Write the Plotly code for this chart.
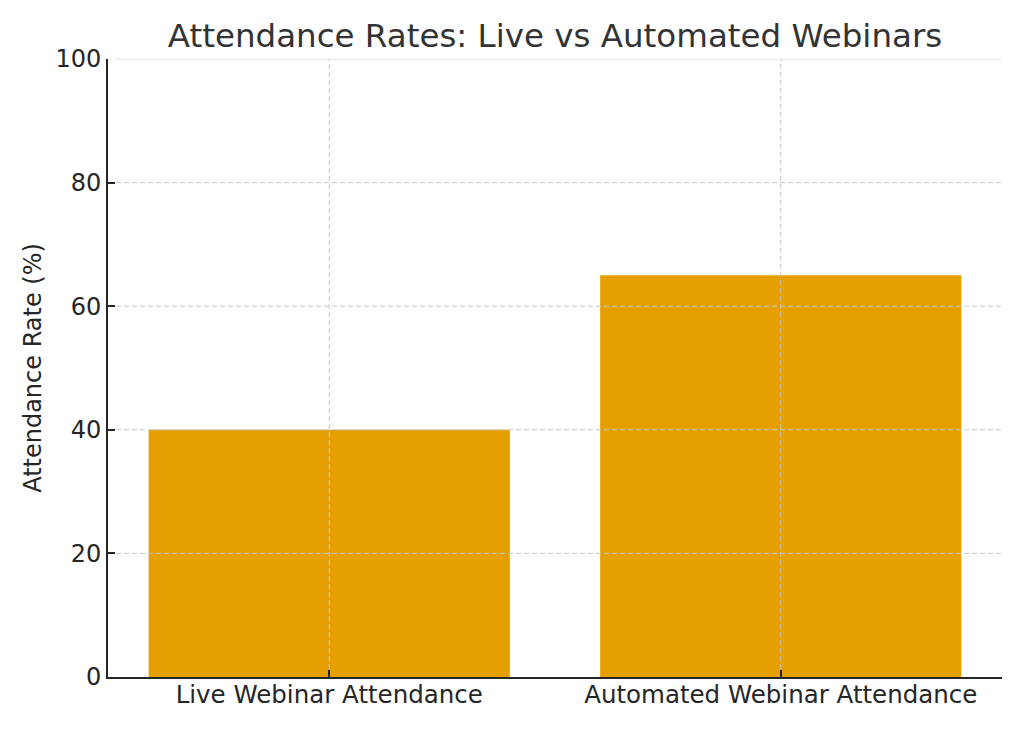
import plotly.graph_objects as go

categories = ["Live Webinar Attendance", "Automated Webinar Attendance"]
attendance_rates = [40, 65]
y_ticks = [0, 20, 40, 60, 80, 100]

fig = go.Figure()
fig.add_trace(go.Bar(
    x=categories,
    y=attendance_rates,
    marker=dict(color="#E69F00", line=dict(width=0)),
    width=0.8,
))

# grid is drawn on top of the bars, so use shapes instead of axis grid
grid = dict(color="#c6c6c6", width=1, dash="5px,3px")
for t in y_ticks[1:]:
    fig.add_shape(type="line", xref="paper", yref="y", x0=0.009, x1=1, y0=t, y1=t,
                  line=grid, layer="above")
for c in categories:
    fig.add_shape(type="line", xref="x", yref="paper", x0=c, x1=c, y0=0.013, y1=1,
                  line=grid, layer="above")

# page has an 8px body margin, so the figure is offset by it
font = "DejaVu Sans"
fig.update_layout(
    width=1008, height=715,
    margin=dict(l=100, r=14, t=51, b=46),
    paper_bgcolor="white", plot_bgcolor="white",
    showlegend=False,
    font=dict(family=font, size=24, color="#262626"),
    title=dict(text="Attendance Rates: Live vs Automated Webinars",
               x=547 / 1008, xanchor="center",
               y=1 - 28 / 715, yanchor="middle",
               font=dict(family=font, size=32.5, color="#333333")),
)

fig.update_xaxes(
    range=[-0.49, 1.49],
    showline=True, linecolor="#262626", linewidth=2,
    ticks="inside", ticklen=7, tickwidth=1.5, tickcolor="#262626",
    showgrid=False, automargin=False,
    layer="above traces",
    ticklabelstandoff=-5,
    tickfont=dict(size=24.5),
)
fig.update_yaxes(
    range=[0, 100], tickvals=y_ticks,
    showline=True, linecolor="#262626", linewidth=2,
    ticks="inside", ticklen=7, tickwidth=1.5, tickcolor="#262626",
    showgrid=False, automargin=False,
    zeroline=False,
    layer="above traces",
    title=dict(text="Attendance Rate (%)", font=dict(size=24), standoff=7),
    tickfont=dict(size=24),
)

fig.write_html("out.html")
